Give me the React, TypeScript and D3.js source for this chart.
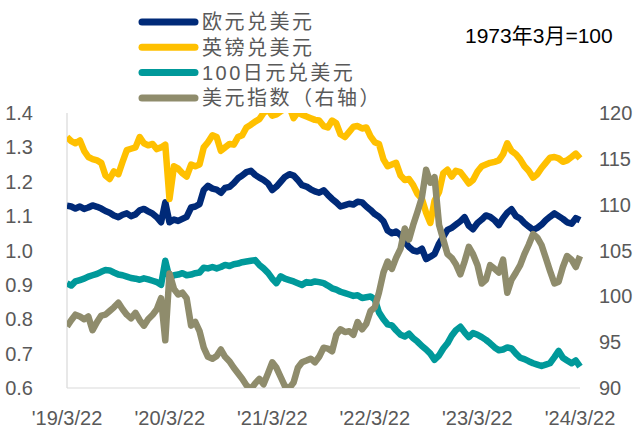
import React from 'react';
import * as d3 from 'd3';

// semi-monthly readings, 2019-03-22 .. 2024-03-22
const eurUsd = [
  1.130, 1.128, 1.122, 1.128, 1.121, 1.125, 1.131, 1.127, 1.122, 1.115,
  1.110, 1.102, 1.097, 1.104, 1.108, 1.100, 1.105, 1.117, 1.121, 1.114,
  1.107, 1.097, 1.082, 1.140, 1.082, 1.090, 1.086, 1.092, 1.098, 1.125,
  1.128, 1.135, 1.176, 1.188, 1.180, 1.177, 1.168, 1.182, 1.185, 1.196,
  1.210, 1.218, 1.228, 1.232, 1.220, 1.212, 1.205, 1.195, 1.176, 1.186,
  1.200, 1.214, 1.222, 1.218, 1.205, 1.190, 1.186, 1.178, 1.172, 1.168,
  1.175, 1.162, 1.150, 1.140, 1.128, 1.132, 1.136, 1.134, 1.142, 1.140,
  1.128, 1.118, 1.106, 1.098, 1.085, 1.058, 1.050, 1.055, 1.045, 1.025,
  1.010, 1.000, 0.997, 1.005, 0.975, 0.982, 0.990, 1.020, 1.040, 1.060,
  1.066, 1.075, 1.085, 1.097, 1.072, 1.062, 1.080, 1.090, 1.102, 1.098,
  1.088, 1.074, 1.094, 1.110, 1.120, 1.100, 1.093, 1.080, 1.070, 1.060,
  1.066, 1.075, 1.088, 1.098, 1.108, 1.100, 1.092, 1.082, 1.078, 1.094,
  1.088,
];

const gbpUsd = [
  1.330, 1.318, 1.312, 1.320, 1.290, 1.272, 1.266, 1.262, 1.255, 1.218,
  1.208, 1.230, 1.222, 1.258, 1.292, 1.296, 1.300, 1.330, 1.312, 1.306,
  1.310, 1.295, 1.300, 1.308, 1.150, 1.245, 1.238, 1.225, 1.215, 1.250,
  1.245, 1.250, 1.300, 1.315, 1.335, 1.330, 1.290, 1.300, 1.310, 1.308,
  1.330, 1.335, 1.358, 1.366, 1.375, 1.382, 1.400, 1.410, 1.392, 1.396,
  1.405, 1.412, 1.418, 1.385, 1.402, 1.395, 1.390, 1.385, 1.380, 1.378,
  1.362, 1.358, 1.378, 1.370, 1.338, 1.330, 1.345, 1.360, 1.362, 1.355,
  1.358, 1.332, 1.315, 1.310, 1.265, 1.245, 1.250, 1.255, 1.218, 1.205,
  1.208, 1.190, 1.165, 1.150, 1.110, 1.080, 1.145, 1.170, 1.225, 1.235,
  1.215, 1.232, 1.228, 1.212, 1.195, 1.205, 1.230, 1.245, 1.250, 1.255,
  1.258, 1.262, 1.280, 1.312, 1.290, 1.280, 1.265, 1.245, 1.232, 1.212,
  1.222, 1.240, 1.255, 1.270, 1.272, 1.268, 1.258, 1.262, 1.272, 1.282,
  1.268,
];

const jpyUsd = [
  0.904, 0.898, 0.910, 0.914, 0.918, 0.924, 0.928, 0.932, 0.938, 0.943,
  0.942, 0.936, 0.930, 0.928, 0.924, 0.920, 0.918, 0.915, 0.919, 0.916,
  0.912, 0.908, 0.900, 0.970, 0.920, 0.928, 0.930, 0.934, 0.928, 0.930,
  0.934, 0.936, 0.950, 0.948, 0.952, 0.948, 0.952, 0.958, 0.955, 0.960,
  0.962, 0.966, 0.968, 0.970, 0.972, 0.958, 0.948, 0.935, 0.918, 0.905,
  0.925, 0.918, 0.914, 0.910, 0.905, 0.900, 0.908, 0.906, 0.910, 0.908,
  0.905, 0.898, 0.890, 0.886, 0.880, 0.876, 0.872, 0.868, 0.870, 0.862,
  0.864, 0.866, 0.858, 0.820, 0.800, 0.785, 0.782, 0.768, 0.755, 0.750,
  0.758, 0.745, 0.735, 0.722, 0.712, 0.700, 0.682, 0.695, 0.715, 0.730,
  0.752, 0.768, 0.778, 0.762, 0.748, 0.760, 0.755, 0.748, 0.740, 0.730,
  0.718, 0.710, 0.712, 0.718, 0.715, 0.700, 0.688, 0.684, 0.678, 0.672,
  0.668, 0.664, 0.668, 0.672, 0.690, 0.708, 0.688, 0.680, 0.672, 0.680,
  0.662,
];

const dxy = [
  96.7, 97.4, 98.0, 97.8, 97.5, 97.8, 96.3, 97.2, 97.9, 98.0,
  98.4, 98.8, 99.3, 98.6, 98.0, 97.6, 98.2, 97.4, 96.8, 97.5,
  98.0, 98.6, 99.8, 95.2, 102.5, 100.8, 100.2, 100.4, 99.8, 96.8,
  97.2, 96.2, 94.4, 93.4, 93.2, 93.5, 94.2, 93.4, 92.9, 92.2,
  91.6, 91.0, 90.3, 89.9, 90.5, 91.0, 90.4, 91.6, 92.8, 92.2,
  91.2, 90.2, 90.0, 90.6, 92.2, 92.8, 93.0, 93.2, 92.8, 93.4,
  94.4, 94.3, 94.0, 95.8, 96.4, 96.1, 96.2, 95.8, 97.2, 96.4,
  97.0, 98.4, 98.8, 100.4, 102.6, 103.8, 103.0, 104.2, 105.2, 107.4,
  106.2, 107.8, 109.2, 110.8, 113.8, 112.4, 113.0, 107.8, 106.2, 104.6,
  104.2, 103.5, 102.4, 103.8, 105.4, 104.6, 103.4, 101.4, 101.8, 103.4,
  103.0, 102.6, 104.0, 100.4, 101.8, 102.6, 103.4, 104.6, 105.6, 106.8,
  106.4, 105.6, 104.2, 102.8, 101.4, 101.6, 103.2, 104.4, 104.0, 103.2,
  104.4,
];

const legendNames = ['欧元兑美元', '英镑兑美元', '100日元兑美元', '美元指数（右轴）'];
const colors = ['#002A78', '#FFC000', '#00999A', '#8F8C6C'];
const xTickLabels = ["'19/3/22", "'20/3/22", "'21/3/22", "'22/3/22", "'23/3/22", "'24/3/22"];
const leftTicks = [0.6, 0.7, 0.8, 0.9, 1.0, 1.1, 1.2, 1.3, 1.4];
const rightTicks = [90, 95, 100, 105, 110, 115, 120];
const note = '1973年3月=100';

const W = 640;
const H = 432;
const plot = { left: 67, right: 580, top: 113, bottom: 388 };

const start = new Date(2019, 2, 22);
const end = new Date(2024, 2, 22);
const totalDays = d3.timeDay.count(start, end);
const dates = eurUsd.map((_, i) => d3.timeDay.offset(start, Math.round((i * totalDays) / (eurUsd.length - 1))));
const tickDates = xTickLabels.map((_, i) => d3.timeYear.offset(start, i));

export default function App() {
  const x = d3.scaleTime().domain([start, end]).range([plot.left, plot.right]);
  const yL = d3.scaleLinear().domain([0.6, 1.4]).range([plot.bottom, plot.top]);
  const yR = d3.scaleLinear().domain([90, 120]).range([plot.bottom, plot.top]);

  const lineL = d3.line<number>().x((_, i) => x(dates[i])).y((d) => yL(d));
  const lineR = d3.line<number>().x((_, i) => x(dates[i])).y((d) => yR(d));

  const series = [
    { d: lineL(eurUsd), c: colors[0] },
    { d: lineL(gbpUsd), c: colors[1] },
    { d: lineL(jpyUsd), c: colors[2] },
    { d: lineR(dxy), c: colors[3] },
  ];

  const tickFont = "'Liberation Sans', 'Noto Sans CJK SC', sans-serif";

  return (
    <svg width={W} height={H} style={{ display: 'block', position: 'absolute', left: 0, top: 0 }}>
      <rect width={W} height={H} fill="#fff" />
      <defs>
        <clipPath id="plotClip">
          <rect x={plot.left} y={plot.top} width={plot.right - plot.left + 3} height={plot.bottom - plot.top} />
        </clipPath>
      </defs>

      {/* axes lines */}
      <line x1={plot.left} x2={plot.left} y1={plot.top} y2={plot.bottom} stroke="#d9d9d9" strokeWidth={1.2} />
      <line x1={plot.left} x2={plot.right} y1={plot.bottom} y2={plot.bottom} stroke="#d9d9d9" strokeWidth={1.2} />

      <g clipPath="url(#plotClip)">
        {series.map((s, i) => (
          <path key={i} d={s.d || ''} fill="none" stroke={s.c} strokeWidth={6.5} strokeLinejoin="round" strokeLinecap="butt" />
        ))}
      </g>

      {/* tick labels */}
      <g fontFamily={tickFont} fontSize={20} fill="#595959">
        {leftTicks.map((t) => (
          <text key={t} x={33} y={yL(t)} dy="0.35em" textAnchor="end">{t.toFixed(1)}</text>
        ))}
        {rightTicks.map((t) => (
          <text key={t} x={599} y={yR(t)} dy="0.35em" textAnchor="start">{t}</text>
        ))}
        {xTickLabels.map((l, i) => (
          <text key={l} x={x(tickDates[i])} y={425} textAnchor="middle">{l}</text>
        ))}
      </g>

      {/* legend */}
      <g fontFamily={tickFont} fontSize={20} fill="#595959" letterSpacing={2.5}>
        {legendNames.map((n, i) => (
          <g key={n} transform={`translate(0,${22 + i * 25.3})`}>
            <line x1={142} x2={195} y1={0} y2={0} stroke={colors[i]} strokeWidth={7} strokeLinecap="round" />
            <text x={202} y={0} dy="0.36em">{n}</text>
          </g>
        ))}
      </g>

      <text x={465} y={35} dy="0.36em" fontFamily={tickFont} fontSize={21} fill="#000">{note}</text>
    </svg>
  );
}
